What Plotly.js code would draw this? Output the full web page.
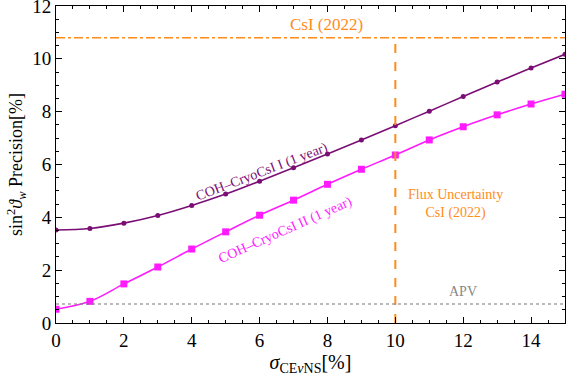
<!DOCTYPE html>
<html><head><meta charset="utf-8">
<script src="https://cdn.plot.ly/plotly-3.0.1.min.js"></script>
<style>html,body{margin:0;padding:0;background:#fff}#chart{width:566px;height:377px}</style>
</head><body><div id="chart"></div>
<script>
const sigma = [0,1,2,3,4,5,6,7,8,9,10,11,12,13,14,15];
const cryoI = [3.52,3.58,3.78,4.07,4.45,4.88,5.37,5.88,6.40,6.93,7.47,8.02,8.57,9.12,9.65,10.17];
const cryoII = [0.52,0.82,1.48,2.12,2.80,3.45,4.08,4.65,5.25,5.82,6.36,6.93,7.43,7.88,8.29,8.66];
const csiLevel = 10.8;
const fluxUnc = 10;
const apvLevel = 0.72;
const xRange = [0,15];
const yRange = [0,12];

const serif = "Liberation Serif, Times New Roman, serif";
const traces = [
  {x: sigma, y: cryoI, mode:'lines+markers', line:{color:'#7a0e74', width:1.6, shape:'spline'},
   marker:{symbol:'circle', size:5, color:'#7a0e74'}},
  {x: sigma, y: cryoII, mode:'lines+markers', line:{color:'#ff1aff', width:1.6, shape:'spline'},
   marker:{symbol:'square', size:7, color:'#ff1aff'}},
  {x: xRange, y: [csiLevel, csiLevel], mode:'lines', line:{color:'#ff8c1a', width:1.5, dash:'dashdot'}},
  {x: [fluxUnc, fluxUnc], y: [0, csiLevel], mode:'lines', line:{color:'#ff8c1a', width:2, dash:'dash'}},
  {x: xRange, y: [apvLevel, apvLevel], mode:'lines', line:{color:'#777', width:1.2, dash:'dot'}}
];
const axisCommon = {showline:true, linecolor:'#000', linewidth:1, mirror:'allticks', ticks:'inside',
  ticklen:6, tickcolor:'#000', showgrid:false, zeroline:false, dtick:2, ticklabeloverflow:'allow',
  tickfont:{family:serif, size:19, color:'#000'},
  minor:{dtick:0.5, ticks:'inside', ticklen:3, tickcolor:'#000', showgrid:false}};
const layout = {
  width:566, height:377, margin:{l:56, r:1, t:6, b:54},
  paper_bgcolor:'#fff', plot_bgcolor:'#fff', showlegend:false,
  font:{family:serif, color:'#000'},
  xaxis: Object.assign({}, axisCommon, {range:xRange,
    title:{text:'<i>σ</i><sub>CE<i>ν</i>NS</sub>[%]', font:{family:serif, size:20, color:'#000'}, standoff:4}}),
  yaxis: Object.assign({}, axisCommon, {range:yRange,
    title:{text:'sin<sup>2</sup><i>ϑ<sub>w</sub></i> Precision[%]', font:{family:serif, size:18, color:'#000'}, standoff:4}}),
  annotations:[
    {x:7.98, y:11.3, text:'CsI (2022)', showarrow:false, font:{family:serif, size:17, color:'#ff8c1a'}},
    {x:11.76, y:4.5, text:'Flux Uncertainty<br>CsI (2022)', showarrow:false, font:{family:serif, size:14, color:'#ff8c1a'}},
    {x:12.0, y:1.2, text:'APV', showarrow:false, font:{family:serif, size:14, color:'#888'}},
    {x:6.07, y:5.72, text:'COH–CryoCsI I (1 year)', showarrow:false, textangle:-21, font:{family:serif, size:14, color:'#7a0e74'}},
    {x:6.77, y:3.52, text:'COH–CryoCsI II (1 year)', showarrow:false, textangle:-24, font:{family:serif, size:14, color:'#ff1aff'}}
  ]
};
Plotly.newPlot('chart', traces, layout, {displayModeBar:false, staticPlot:true});
</script></body></html>
